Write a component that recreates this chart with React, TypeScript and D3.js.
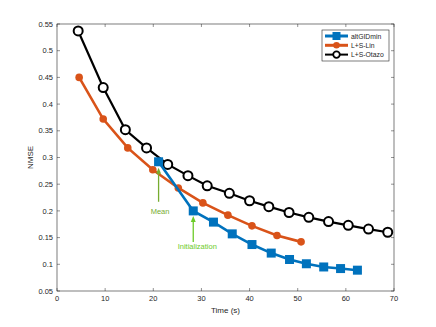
import React from 'react';
import * as d3 from 'd3';

// altGDmin
const gdTime = [21.1, 28.3, 32.5, 36.4, 40.5, 44.5, 48.3, 51.8, 55.4, 58.9, 62.4];
const gdNmse = [0.292, 0.200, 0.179, 0.157, 0.137, 0.121, 0.109, 0.101, 0.095, 0.092, 0.089];

// L+S-Lin
const linTime = [4.6, 9.6, 14.7, 19.9, 25.2, 30.3, 35.5, 40.5, 45.7, 50.7];
const linNmse = [0.450, 0.372, 0.318, 0.277, 0.243, 0.215, 0.192, 0.172, 0.154, 0.142];

// L+S-Otazo
const otaTime = [4.4, 9.6, 14.2, 18.6, 23.0, 27.2, 31.2, 35.8, 40.0, 44.0, 48.2, 52.3, 56.4, 60.5, 64.7, 68.7];
const otaNmse = [0.537, 0.431, 0.352, 0.318, 0.287, 0.266, 0.247, 0.233, 0.219, 0.208, 0.197, 0.188, 0.180, 0.173, 0.166, 0.160];

const xTicks = [0, 10, 20, 30, 40, 50, 60, 70];
const yTicks = [0.05, 0.1, 0.15, 0.2, 0.25, 0.3, 0.35, 0.4, 0.45, 0.5, 0.55];

const seriesNames = ['altGIDmin', 'L+S-Lin', 'L+S-Otazo'];

const W = 436, H = 327;
const m = { top: 24, right: 42, bottom: 36, left: 57 };
const font = '"Liberation Sans", Arial, sans-serif';
const axisColor = '#262626';

export default function App() {
  const x = d3.scaleLinear().domain([0, 70]).range([m.left, W - m.right]);
  const y = d3.scaleLinear().domain([0.05, 0.55]).range([H - m.bottom, m.top]);
  const line = d3.line<[number, number]>().x(d => x(d[0])).y(d => y(d[1]));

  const gd = gdTime.map((t, i) => [t, gdNmse[i]] as [number, number]);
  const lin = linTime.map((t, i) => [t, linNmse[i]] as [number, number]);
  const ota = otaTime.map((t, i) => [t, otaNmse[i]] as [number, number]);

  const x0 = m.left, x1 = W - m.right, y0 = H - m.bottom, y1 = m.top;
  const tl = 3;

  const meanPt = gd[0];
  const initPt = gd[1];

  const lgX = 322, lgY = 30;
  return (
    <svg width={W} height={H} style={{ position: 'absolute', left: 0, top: 0, background: '#fff' }}>
      <rect x={0} y={0} width={W} height={H} fill="#fff" />
      {/* ticks */}
      {xTicks.map(t => (
        <g key={'x' + t}>
          <line x1={x(t)} x2={x(t)} y1={y0} y2={y0 - tl} stroke={axisColor} strokeWidth={0.5} />
          <line x1={x(t)} x2={x(t)} y1={y1} y2={y1 + tl} stroke={axisColor} strokeWidth={0.5} />
          <text x={x(t)} y={y0 + 10} fontSize={7.5} fontFamily={font} fill={axisColor} textAnchor="middle">{t}</text>
        </g>
      ))}
      {yTicks.map(t => (
        <g key={'y' + t}>
          <line x1={x0} x2={x0 + tl} y1={y(t)} y2={y(t)} stroke={axisColor} strokeWidth={0.5} />
          <line x1={x1} x2={x1 - tl} y1={y(t)} y2={y(t)} stroke={axisColor} strokeWidth={0.5} />
          <text x={x0 - 4} y={y(t) + 2.6} fontSize={7.5} fontFamily={font} fill={axisColor} textAnchor="end">{d3.format('')(+t.toFixed(2))}</text>
        </g>
      ))}
      <rect x={x0} y={y1} width={x1 - x0} height={y0 - y1} fill="none" stroke={axisColor} strokeWidth={0.6} />
      <text x={(x0 + x1) / 2} y={y0 + 22} fontSize={8} fontFamily={font} fill={axisColor} textAnchor="middle">Time (s)</text>
      <text transform={`translate(${x0 - 24},${(y0 + y1) / 2}) rotate(-90)`} fontSize={8} fontFamily={font} fill={axisColor} textAnchor="middle">NMSE</text>

      {/* series */}
      <path d={line(ota) || ''} fill="none" stroke="#000" strokeWidth={2.2} />
      {ota.map((d, i) => (
        <circle key={'o' + i} cx={x(d[0])} cy={y(d[1])} r={4.5} fill="#fff" stroke="#000" strokeWidth={2} />
      ))}
      <path d={line(lin) || ''} fill="none" stroke="#D95319" strokeWidth={2.6} />
      {lin.map((d, i) => (
        <circle key={'l' + i} cx={x(d[0])} cy={y(d[1])} r={3.8} fill="#D95319" />
      ))}
      <path d={line(gd) || ''} fill="none" stroke="#0072BD" strokeWidth={2.6} />
      {gd.map((d, i) => (
        <rect key={'g' + i} x={x(d[0]) - 4.5} y={y(d[1]) - 4.5} width={9} height={9} fill="#0072BD" />
      ))}

      {/* annotations */}
      <line x1={x(meanPt[0])} x2={x(meanPt[0])} y1={y(meanPt[1]) + 40} y2={y(meanPt[1]) + 9} stroke="#77AC30" strokeWidth={1.3} />
      <path d={`M${x(meanPt[0])},${y(meanPt[1]) + 6} l-2.5,6 l5,0 z`} fill="#77AC30" />
      <text x={x(meanPt[0]) + 1.5} y={y(meanPt[1]) + 52} fontSize={7.5} fontFamily={font} fill="#77AC30" textAnchor="middle">Mean</text>
      <line x1={x(initPt[0])} x2={x(initPt[0])} y1={y(initPt[1]) + 31} y2={y(initPt[1]) + 8} stroke="#6CCB28" strokeWidth={1.3} />
      <path d={`M${x(initPt[0])},${y(initPt[1]) + 5} l-2.5,6 l5,0 z`} fill="#6CCB28" />
      <text x={x(initPt[0]) + 4} y={y(initPt[1]) + 38} fontSize={7.5} fontFamily={font} fill="#6CCB28" textAnchor="middle">Initialization</text>

      {/* legend */}
      <rect x={lgX} y={lgY} width={67} height={31} fill="#fff" stroke={axisColor} strokeWidth={0.6} />
      {seriesNames.map((name, i) => {
        const cy = lgY + 6 + i * 9.3;
        const colors = ['#0072BD', '#D95319', '#000'];
        return (
          <g key={name}>
            <line x1={lgX + 3} x2={lgX + 26} y1={cy} y2={cy} stroke={colors[i]} strokeWidth={i === 2 ? 2 : 3} />
            {i === 0 && <rect x={lgX + 14.5 - 4} y={cy - 4} width={8} height={8} fill={colors[0]} />}
            {i === 1 && <circle cx={lgX + 14.5} cy={cy} r={3.3} fill={colors[1]} />}
            {i === 2 && <circle cx={lgX + 14.5} cy={cy} r={3.3} fill="#fff" stroke="#000" strokeWidth={1.8} />}
            <text x={lgX + 29} y={cy + 2.5} fontSize={6.8} fontFamily={font} fill={axisColor}>{name}</text>
          </g>
        );
      })}
    </svg>
  );
}
